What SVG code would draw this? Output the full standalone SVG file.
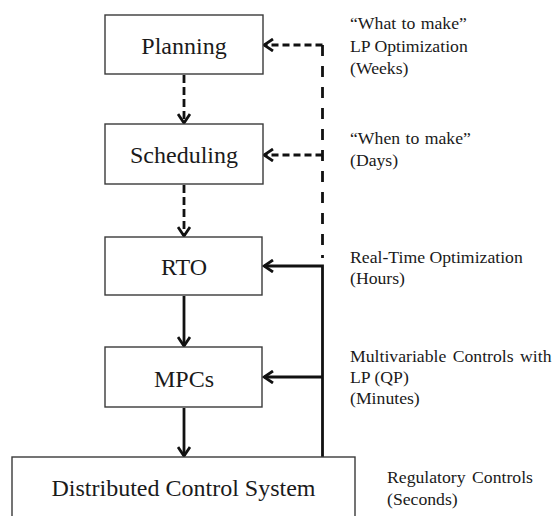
<svg xmlns="http://www.w3.org/2000/svg" width="556" height="516" viewBox="0 0 556 516">
  <style>
    .box { fill: #ffffff; stroke: #3a3a3a; stroke-width: 1.4; }
    .lbl { font-family: "Liberation Serif", "Times New Roman", serif; font-size: 24px; fill: #1a1a1a; text-anchor: middle; }
    .note { font-family: "Liberation Serif", "Times New Roman", serif; font-size: 17.7px; fill: #1a1a1a; }
    .solid { fill: none; stroke: #111; stroke-width: 2.8; }
    .dash-v { fill: none; stroke: #111; stroke-width: 2.8; stroke-dasharray: 8 4; }
    .dash-h { fill: none; stroke: #111; stroke-width: 2.8; stroke-dasharray: 7 4; }
    .dash-bus { fill: none; stroke: #111; stroke-width: 2.8; stroke-dasharray: 11 10; }
  </style>
  <defs>
    <marker id="chev" markerUnits="userSpaceOnUse" viewBox="0 0 14 14" refX="12" refY="7" markerWidth="14" markerHeight="14" orient="auto">
      <path d="M3,1 L12,7 L3,13" fill="none" stroke="#111" stroke-width="2.8" stroke-linejoin="miter"/>
    </marker>
  </defs>

  <rect width="556" height="516" fill="#ffffff"/>

  <!-- connectors -->
  <g id="connectors">
    <!-- downward flow between layers -->
    <line class="dash-v" x1="184" y1="75" x2="184" y2="123" marker-end="url(#chev)"/>
    <line class="dash-v" x1="184" y1="185" x2="184" y2="236" marker-end="url(#chev)"/>
    <line class="solid" x1="184" y1="296" x2="184" y2="346" marker-end="url(#chev)"/>
    <line class="solid" x1="184" y1="408" x2="184" y2="456" marker-end="url(#chev)"/>

    <!-- dashed feedback bus to planning and scheduling -->
    <line class="dash-bus" x1="322.5" y1="45" x2="322.5" y2="258"/>
    <path class="dash-h" d="M322.5,45 L264,45" marker-end="url(#chev)"/>
    <path class="dash-h" d="M322.5,155 L264,155" marker-end="url(#chev)"/>

    <!-- solid feedback from the DCS to RTO and MPCs -->
    <path class="solid" d="M322.5,457 L322.5,266 L264,266" marker-end="url(#chev)"/>
    <line class="solid" x1="322.5" y1="377" x2="264" y2="377" marker-end="url(#chev)"/>
  </g>

  <!-- layers -->
  <g id="planning">
    <rect class="box" x="105" y="15" width="158" height="59"/>
    <text class="lbl" x="184" y="54">Planning</text>
  </g>
  <g id="scheduling">
    <rect class="box" x="105" y="124" width="158" height="60"/>
    <text class="lbl" x="184" y="163">Scheduling</text>
  </g>
  <g id="rto">
    <rect class="box" x="105" y="237" width="157" height="58"/>
    <text class="lbl" x="184" y="275">RTO</text>
  </g>
  <g id="mpcs">
    <rect class="box" x="105" y="347" width="157" height="60"/>
    <text class="lbl" x="184" y="387">MPCs</text>
  </g>
  <g id="dcs">
    <rect class="box" x="12" y="457" width="343" height="70"/>
    <text class="lbl" x="183.5" y="496">Distributed Control System</text>
  </g>

  <!-- timescale notes -->
  <g id="notes">
    <text class="note" x="350" y="29" word-spacing="1">“What to make”</text>
    <text class="note" x="350" y="52">LP Optimization</text>
    <text class="note" x="350" y="74">(Weeks)</text>

    <text class="note" x="350" y="144" word-spacing="1">“When to make”</text>
    <text class="note" x="350" y="166">(Days)</text>

    <text class="note" x="350" y="263">Real-Time Optimization</text>
    <text class="note" x="350" y="284">(Hours)</text>

    <text class="note" x="350" y="362" word-spacing="2">Multivariable Controls with</text>
    <text class="note" x="350" y="383">LP (QP)</text>
    <text class="note" x="350" y="404">(Minutes)</text>

    <text class="note" x="387" y="483" word-spacing="2">Regulatory Controls</text>
    <text class="note" x="387" y="505">(Seconds)</text>
  </g>
</svg>
